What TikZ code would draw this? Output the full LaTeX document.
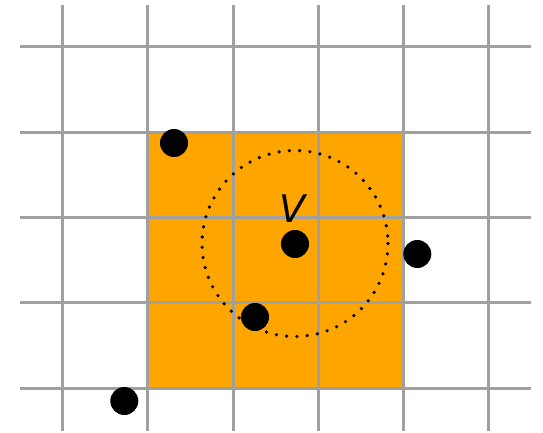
\documentclass[tikz,border=0pt]{standalone}
\usepackage{fontspec}
\newfontfamily\labelfont{DejaVu Sans}
\definecolor{gridgray}{RGB}{160,160,160}
\definecolor{fillorange}{RGB}{255,165,0}
\begin{document}
\begin{tikzpicture}[x=1pt,y=-1pt,
  gridline/.style={draw=gridgray,line width=3pt},
  pt/.style={circle,fill=black,inner sep=0pt,minimum size=28pt},
  ring/.style={draw=black,line width=3.6pt,line cap=round,dash pattern=on 0pt off 10.3pt}]
\useasboundingbox (0,0) rectangle (543,433);
\fill[fillorange] (147.5,132.5) rectangle (403.3,388);
\foreach \x in {62,147.5,233,318,403.3,488.7}
  \draw[gridline] (\x,5) -- (\x,431);
\foreach \y in {47,132.5,217.5,302.5,388}
  \draw[gridline] (20,\y) -- (531,\y);
\draw[ring] (295,243.5) circle (93);
\node[pt] (a) at (174,143) {};
\node[pt] (v) at (295,244) {};
\node[pt] (b) at (417.3,254) {};
\node[pt] (c) at (255,317) {};
\node[pt] (d) at (124.3,401) {};
\node[font=\labelfont\itshape\fontsize{38}{40}\selectfont,inner sep=0pt] (lbl) at (292,209) {V};
\end{tikzpicture}
\end{document}
